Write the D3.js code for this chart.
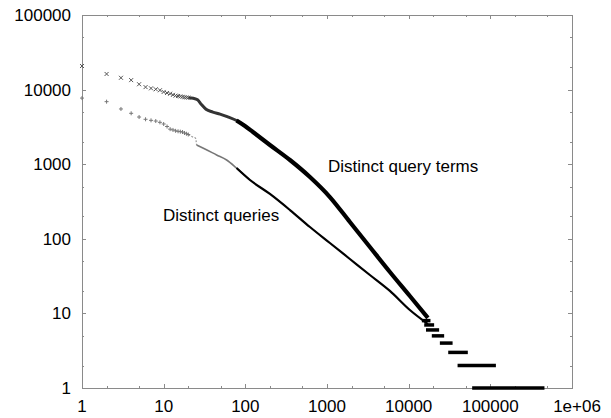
<!DOCTYPE html>
<html><head><meta charset="utf-8">
<script src="https://cdn.jsdelivr.net/npm/d3@7"></script>
<style>
html,body{margin:0;padding:0;background:#fff;}
svg text{font-family:"Liberation Sans",Arial,Helvetica,sans-serif;fill:#000;}
</style></head>
<body>
<svg id="chart" width="611" height="418"></svg>
<script>
// ---- data ----
// Distinct query terms: sparse low ranks (drawn as "x" markers)
const termsRanks = [1,2,3,4,5,6,7,8,9,10,11,12,13,14,15,16,17,18,19,20];
const termsVals  = [20700,16200,14400,13400,11800,10800,10400,10100,9800,9300,9000,8800,8500,8300,8200,8100,8000,7900,7850,7800];
// Distinct query terms: dense part (rank, frequency)
const termsCurveRanks = [20,23,26,29,33,40,49,60,78,99,124,200,352,618,1085,1906,3350,5890,10340,17200];
const termsCurveVals  = [7800,7650,7300,6300,5450,5000,4700,4350,3850,3250,2700,1810,1138,673,363,168,77.6,35.9,17.1,8.7];
// Distinct queries: sparse low ranks (drawn as "+" markers)
const queriesRanks = [1,2,3,4,5,6,7,8,9,10,11,12,13,14,15,16,17,18,19,20];
const queriesVals  = [7700,6890,5500,4810,4290,4000,3870,3790,3640,3460,3200,2950,2880,2800,2760,2730,2700,2620,2560,2500];
// Distinct queries: dense part
const queriesCurveRanks = [20,23,24.5,25.3,32,44.5,59,78,114,200,352,618,1085,1906,3350,5890,10340,17200];
const queriesCurveVals  = [2500,2300,2250,1810,1600,1330,1138,889,614,399,243,144,87.8,53.6,32.7,20,11.1,7.2];
// Tail: runs of equal frequency (value, first rank, last rank)
const stepVals   = [8,7,6,5,4,3,2,1];
const stepStarts = [14500,15500,16300,19200,24100,30500,39700,59900];
const stepEnds   = [18500,20500,23600,27200,34500,53000,117000,460000];
// Tick labels
const xTickVals = [1,10,100,1000,10000,100000,1000000];
const xTickLabels = ["1","10","100","1000","10000","100000","1e+06"];
const yTickVals = [1,10,100,1000,10000,100000];
const yTickLabels = ["1","10","100","1000","10000","100000"];
const labelTerms = "Distinct query terms";
const labelQueries = "Distinct queries";

// ---- drawing ----
const svg = d3.select("#chart");
const L = 82, R = 572, T = 15, B = 388;
const x = d3.scaleLog().domain([1,1e6]).range([L,R]);
const y = d3.scaleLog().domain([1,1e5]).range([B,T]);

const minorX = [], minorY = [];
for (let d = 1; d < 1e6; d *= 10) { minorX.push(2*d, 5*d); }
for (let d = 1; d < 1e5; d *= 10) { minorY.push(2*d, 5*d); }

const axisColor = "#8a8a8a";
svg.append("rect").attr("x",L).attr("y",T).attr("width",R-L).attr("height",B-T)
  .attr("fill","none").attr("stroke",axisColor).attr("stroke-width",1).attr("shape-rendering","crispEdges");

function addAxis(axisGen, tx, ty, size, vals){
  const g = svg.append("g").attr("transform",`translate(${tx},${ty})`)
    .call(axisGen.tickValues(vals).tickSize(size).tickFormat(""));
  g.select(".domain").remove();
  g.selectAll(".tick line").attr("stroke",axisColor).attr("shape-rendering","crispEdges");
  return g;
}
addAxis(d3.axisBottom(x), 0, B, -4, xTickVals);
addAxis(d3.axisBottom(x), 0, B, -2, minorX);
addAxis(d3.axisTop(x), 0, T, -4, xTickVals);
addAxis(d3.axisTop(x), 0, T, -2, minorX);
addAxis(d3.axisLeft(y), L, 0, -4, yTickVals);
addAxis(d3.axisLeft(y), L, 0, -2, minorY);
addAxis(d3.axisRight(y), R, 0, -4, yTickVals);
addAxis(d3.axisRight(y), R, 0, -2, minorY);

svg.append("g").selectAll("text").data(xTickVals).join("text")
  .attr("x",(d,i)=>x(d) + (i===xTickVals.length-1 ? 5 : 0))
  .attr("y",412).attr("text-anchor","middle").attr("font-size",17)
  .text((d,i)=>xTickLabels[i]);
svg.append("g").selectAll("text").data(yTickVals).join("text")
  .attr("x",71).attr("y",d=>y(d)+6).attr("text-anchor","end").attr("font-size",17)
  .text((d,i)=>yTickLabels[i]);

const line = d3.line().x(d=>x(d[0])).y(d=>y(d[1])).curve(d3.curveMonotoneX);
const tc = termsCurveRanks.map((r,i)=>[r,termsCurveVals[i]]);
const qc = queriesCurveRanks.map((r,i)=>[r,queriesCurveVals[i]]);
svg.append("path").datum(tc.filter(d=>d[0]<=99)).attr("d",line)
  .attr("fill","none").attr("stroke","#333").attr("stroke-width",3);
svg.append("path").datum(tc.filter(d=>d[0]>=78)).attr("d",line)
  .attr("fill","none").attr("stroke","#000").attr("stroke-width",4.2);
svg.append("path").datum(qc.filter(d=>d[0]<=25.3)).attr("d",line)
  .attr("fill","none").attr("stroke","#999").attr("stroke-width",1.2).attr("stroke-dasharray","2,1.5");
svg.append("path").datum(qc.filter(d=>d[0]>=25.3 && d[0]<=114)).attr("d",line)
  .attr("fill","none").attr("stroke","#777").attr("stroke-width",1.6);
svg.append("path").datum(qc.filter(d=>d[0]>=78)).attr("d",line)
  .attr("fill","none").attr("stroke","#000").attr("stroke-width",2.2);

svg.append("g").selectAll("line").data(stepVals).join("line")
  .attr("x1",(d,i)=>x(stepStarts[i])).attr("x2",(d,i)=>x(stepEnds[i]))
  .attr("y1",d=>y(d)).attr("y2",d=>y(d))
  .attr("stroke","#000").attr("stroke-width",3.5);

const s = 2;
svg.append("g").selectAll("path").data(termsRanks).join("path")
  .attr("d",(d,i)=>{const cx=x(d), cy=y(termsVals[i]);
    return `M${cx-s},${cy-s}L${cx+s},${cy+s}M${cx-s},${cy+s}L${cx+s},${cy-s}`;})
  .attr("stroke","#555").attr("stroke-width",1).attr("fill","none");
svg.append("g").selectAll("path").data(queriesRanks).join("path")
  .attr("d",(d,i)=>{const cx=x(d), cy=y(queriesVals[i]);
    return `M${cx-s},${cy}L${cx+s},${cy}M${cx},${cy-s}L${cx},${cy+s}`;})
  .attr("stroke","#777").attr("stroke-width",1).attr("fill","none");

svg.append("text").attr("x",328).attr("y",172).attr("font-size",17).text(labelTerms);
svg.append("text").attr("x",163).attr("y",221).attr("font-size",17).text(labelQueries);
</script>
</body></html>
